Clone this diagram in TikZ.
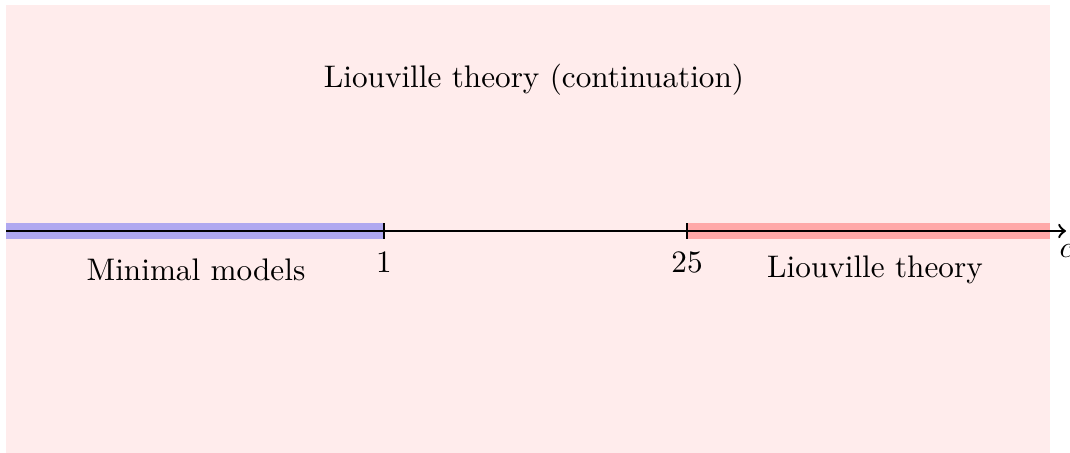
\documentclass[tikz,border=0pt]{standalone}
\definecolor{bandblue}{RGB}{176,168,240}
\definecolor{bandred}{RGB}{255,168,168}
\definecolor{bgpink}{RGB}{255,236,236}
\begin{document}
\begin{tikzpicture}[x=0.3333pt,y=-0.3333pt,
  band/.style={line width=5pt},
  axisline/.style={thick,->},
  tick/.style={thick},
  lab/.style={font=\fontsize{10.4}{12.5}\selectfont}]
\useasboundingbox (0,0) rectangle (1070,453);
\fill[bgpink] (6,5) rectangle (1050,453);
\draw[band,bandblue] (6,231) -- (384,231);
\draw[band,bandred] (687,231) -- (1050,231);
\coordinate (s) at (6,231);
\coordinate (e) at (1066,231);
\draw[axisline] (s) -- (e);
\draw[tick] (384,223) -- (384,239);
\draw[tick] (687,223) -- (687,239);
\node[lab] (top) at (534,80) {Liouville theory (continuation)};
\node[lab] (mm) at (196,270) {Minimal models};
\node[lab] (one) at (384,262) {1};
\node[lab] (tf) at (687,262) {25};
\node[lab] (lt) at (875,270) {Liouville theory};
\node[lab] (c) at (1066,251) {$c$};
\end{tikzpicture}
\end{document}
